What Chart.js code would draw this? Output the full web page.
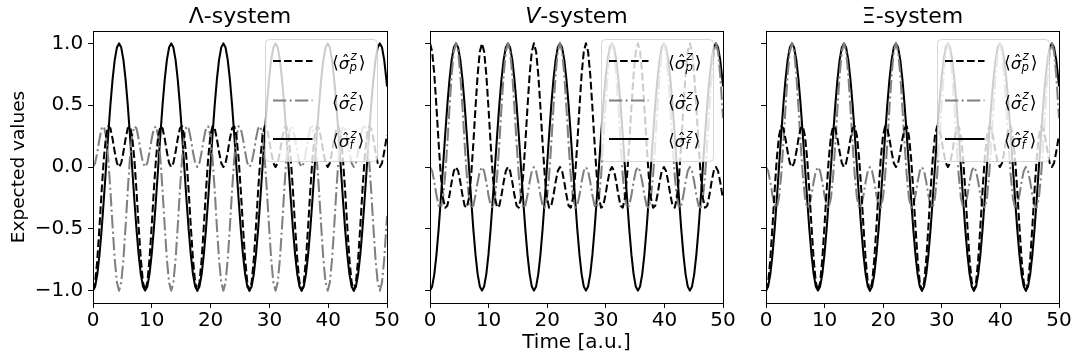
<!DOCTYPE html>
<html>
<head>
<meta charset="utf-8">
<script src="https://cdn.jsdelivr.net/npm/chart.js@4.4.1/dist/chart.umd.min.js"></script>
<style>
  html, body { margin: 0; padding: 0; background: #ffffff; }
  #wrap { position: relative; width: 1080px; height: 363px; overflow: hidden; }
  #wrap canvas { position: absolute; left: 0; top: 0; }
</style>
</head>
<body>
<div id="wrap">
  <canvas id="panelA" width="1080" height="363"></canvas>
  <canvas id="panelB" width="1080" height="363"></canvas>
  <canvas id="panelC" width="1080" height="363"></canvas>
</div>
<script>
// Time grid [a.u.]
const timeAxis = [
  0, 0.370, 0.739, 1.109, 1.478, 1.848, 2.218, 2.587, 2.957, 3.326, 3.696, 4.065, 4.435, 4.805, 5.174, 5.544, 5.913, 6.283, 6.653, 7.022, 7.392, 7.761, 8.131, 8.500,
  8.870, 9.240, 9.609, 9.979, 10.348, 10.718, 11.088, 11.457, 11.827, 12.196, 12.566, 12.935, 13.305, 13.675, 14.044, 14.414, 14.783, 15.153, 15.523, 15.892, 16.262, 16.631, 17.001, 17.370,
  17.740, 18.110, 18.479, 18.849, 19.218, 19.588, 19.958, 20.327, 20.697, 21.066, 21.436, 21.805, 22.175, 22.545, 22.914, 23.284, 23.653, 24.023, 24.393, 24.762, 25.132, 25.501, 25.871, 26.240,
  26.610, 26.980, 27.349, 27.719, 28.088, 28.458, 28.828, 29.197, 29.567, 29.936, 30.306, 30.675, 31.045, 31.415, 31.784, 32.154, 32.523, 32.893, 33.263, 33.632, 34.002, 34.371, 34.741, 35.110,
  35.480, 35.850, 36.219, 36.589, 36.958, 37.328, 37.698, 38.067, 38.437, 38.806, 39.176, 39.545, 39.915, 40.285, 40.654, 41.024, 41.393, 41.763, 42.133, 42.502, 42.872, 43.241, 43.611, 43.980,
  44.350, 44.720, 45.089, 45.459, 45.828, 46.198, 46.568, 46.937, 47.307, 47.676, 48.046, 48.415, 48.785, 49.155, 49.524, 49.894, 50
];

// <sigma_f^z>, same in all three systems
const sigmaF = [
  -1, -0.966, -0.866, -0.707, -0.5, -0.259, 0, 0.259, 0.5, 0.707, 0.866, 0.966, 1, 0.966, 0.866, 0.707, 0.5, 0.259, 0, -0.259, -0.5, -0.707, -0.866, -0.966,
  -1, -0.966, -0.866, -0.707, -0.5, -0.259, 0, 0.259, 0.5, 0.707, 0.866, 0.966, 1, 0.966, 0.866, 0.707, 0.5, 0.259, 0, -0.259, -0.5, -0.707, -0.866, -0.966,
  -1, -0.966, -0.866, -0.707, -0.5, -0.259, 0, 0.259, 0.5, 0.707, 0.866, 0.966, 1, 0.966, 0.866, 0.707, 0.5, 0.259, 0, -0.259, -0.5, -0.707, -0.866, -0.966,
  -1, -0.966, -0.866, -0.707, -0.5, -0.259, 0, 0.259, 0.5, 0.707, 0.866, 0.966, 1, 0.966, 0.866, 0.707, 0.5, 0.259, 0, -0.259, -0.5, -0.707, -0.866, -0.966,
  -1, -0.966, -0.866, -0.707, -0.5, -0.259, 0, 0.259, 0.5, 0.707, 0.866, 0.966, 1, 0.966, 0.866, 0.707, 0.5, 0.259, 0, -0.259, -0.5, -0.707, -0.866, -0.966,
  -1, -0.966, -0.866, -0.707, -0.5, -0.259, 0, 0.259, 0.5, 0.707, 0.866, 0.966, 1, 0.966, 0.866, 0.707, 0.652
];

// Lambda-system
const lambdaP = [
  -1, -0.933, -0.746, -0.479, -0.188, 0.070, 0.250, 0.329, 0.313, 0.229, 0.121, 0.033, 0, 0.033, 0.121, 0.229, 0.313, 0.329, 0.250, 0.070, -0.188, -0.479, -0.746, -0.933,
  -1, -0.933, -0.746, -0.479, -0.188, 0.070, 0.250, 0.329, 0.313, 0.229, 0.121, 0.033, 0, 0.033, 0.121, 0.229, 0.313, 0.329, 0.250, 0.070, -0.188, -0.479, -0.746, -0.933,
  -1, -0.933, -0.746, -0.479, -0.188, 0.070, 0.250, 0.329, 0.313, 0.229, 0.121, 0.033, 0, 0.033, 0.121, 0.229, 0.313, 0.329, 0.250, 0.070, -0.188, -0.479, -0.746, -0.933,
  -1, -0.933, -0.746, -0.479, -0.188, 0.070, 0.250, 0.329, 0.313, 0.229, 0.121, 0.033, 0, 0.033, 0.121, 0.229, 0.313, 0.329, 0.250, 0.070, -0.188, -0.479, -0.746, -0.933,
  -1, -0.933, -0.746, -0.479, -0.188, 0.070, 0.250, 0.329, 0.313, 0.229, 0.121, 0.033, 0, 0.033, 0.121, 0.229, 0.313, 0.329, 0.250, 0.070, -0.188, -0.479, -0.746, -0.933,
  -1, -0.933, -0.746, -0.479, -0.188, 0.070, 0.250, 0.329, 0.313, 0.229, 0.121, 0.033, 0, 0.033, 0.121, 0.229, 0.257
];
const lambdaC = [
  0, 0.033, 0.121, 0.229, 0.313, 0.329, 0.250, 0.070, -0.188, -0.479, -0.746, -0.933, -1, -0.933, -0.746, -0.479, -0.188, 0.070, 0.250, 0.329, 0.313, 0.229, 0.121, 0.033,
  0, 0.033, 0.121, 0.229, 0.313, 0.329, 0.250, 0.070, -0.188, -0.479, -0.746, -0.933, -1, -0.933, -0.746, -0.479, -0.188, 0.070, 0.250, 0.329, 0.313, 0.229, 0.121, 0.033,
  0, 0.033, 0.121, 0.229, 0.313, 0.329, 0.250, 0.070, -0.188, -0.479, -0.746, -0.933, -1, -0.933, -0.746, -0.479, -0.188, 0.070, 0.250, 0.329, 0.313, 0.229, 0.121, 0.033,
  0, 0.033, 0.121, 0.229, 0.313, 0.329, 0.250, 0.070, -0.188, -0.479, -0.746, -0.933, -1, -0.933, -0.746, -0.479, -0.188, 0.070, 0.250, 0.329, 0.313, 0.229, 0.121, 0.033,
  0, 0.033, 0.121, 0.229, 0.313, 0.329, 0.250, 0.070, -0.188, -0.479, -0.746, -0.933, -1, -0.933, -0.746, -0.479, -0.188, 0.070, 0.250, 0.329, 0.313, 0.229, 0.121, 0.033,
  0, 0.033, 0.121, 0.229, 0.313, 0.329, 0.250, 0.070, -0.188, -0.479, -0.746, -0.933, -1, -0.933, -0.746, -0.479, -0.395
];

// V-system
const vP = [
  1, 0.933, 0.746, 0.479, 0.188, -0.070, -0.250, -0.329, -0.313, -0.229, -0.121, -0.033, 0, -0.033, -0.121, -0.229, -0.313, -0.329, -0.250, -0.070, 0.188, 0.479, 0.746, 0.933,
  1, 0.933, 0.746, 0.479, 0.188, -0.070, -0.250, -0.329, -0.313, -0.229, -0.121, -0.033, 0, -0.033, -0.121, -0.229, -0.313, -0.329, -0.250, -0.070, 0.188, 0.479, 0.746, 0.933,
  1, 0.933, 0.746, 0.479, 0.188, -0.070, -0.250, -0.329, -0.313, -0.229, -0.121, -0.033, 0, -0.033, -0.121, -0.229, -0.313, -0.329, -0.250, -0.070, 0.188, 0.479, 0.746, 0.933,
  1, 0.933, 0.746, 0.479, 0.188, -0.070, -0.250, -0.329, -0.313, -0.229, -0.121, -0.033, 0, -0.033, -0.121, -0.229, -0.313, -0.329, -0.250, -0.070, 0.188, 0.479, 0.746, 0.933,
  1, 0.933, 0.746, 0.479, 0.188, -0.070, -0.250, -0.329, -0.313, -0.229, -0.121, -0.033, 0, -0.033, -0.121, -0.229, -0.313, -0.329, -0.250, -0.070, 0.188, 0.479, 0.746, 0.933,
  1, 0.933, 0.746, 0.479, 0.188, -0.070, -0.250, -0.329, -0.313, -0.229, -0.121, -0.033, 0, -0.033, -0.121, -0.229, -0.257
];
const vC = [
  0, -0.033, -0.121, -0.229, -0.313, -0.329, -0.250, -0.070, 0.188, 0.479, 0.746, 0.933, 1, 0.933, 0.746, 0.479, 0.188, -0.070, -0.250, -0.329, -0.313, -0.229, -0.121, -0.033,
  0, -0.033, -0.121, -0.229, -0.313, -0.329, -0.250, -0.070, 0.188, 0.479, 0.746, 0.933, 1, 0.933, 0.746, 0.479, 0.188, -0.070, -0.250, -0.329, -0.313, -0.229, -0.121, -0.033,
  0, -0.033, -0.121, -0.229, -0.313, -0.329, -0.250, -0.070, 0.188, 0.479, 0.746, 0.933, 1, 0.933, 0.746, 0.479, 0.188, -0.070, -0.250, -0.329, -0.313, -0.229, -0.121, -0.033,
  0, -0.033, -0.121, -0.229, -0.313, -0.329, -0.250, -0.070, 0.188, 0.479, 0.746, 0.933, 1, 0.933, 0.746, 0.479, 0.188, -0.070, -0.250, -0.329, -0.313, -0.229, -0.121, -0.033,
  0, -0.033, -0.121, -0.229, -0.313, -0.329, -0.250, -0.070, 0.188, 0.479, 0.746, 0.933, 1, 0.933, 0.746, 0.479, 0.188, -0.070, -0.250, -0.329, -0.313, -0.229, -0.121, -0.033,
  0, -0.033, -0.121, -0.229, -0.313, -0.329, -0.250, -0.070, 0.188, 0.479, 0.746, 0.933, 1, 0.933, 0.746, 0.479, 0.395
];

// Xi-system
const xiP = [
  -1, -0.933, -0.746, -0.479, -0.188, 0.070, 0.250, 0.329, 0.313, 0.229, 0.121, 0.033, 0, 0.033, 0.121, 0.229, 0.313, 0.329, 0.250, 0.070, -0.188, -0.479, -0.746, -0.933,
  -1, -0.933, -0.746, -0.479, -0.188, 0.070, 0.250, 0.329, 0.313, 0.229, 0.121, 0.033, 0, 0.033, 0.121, 0.229, 0.313, 0.329, 0.250, 0.070, -0.188, -0.479, -0.746, -0.933,
  -1, -0.933, -0.746, -0.479, -0.188, 0.070, 0.250, 0.329, 0.313, 0.229, 0.121, 0.033, 0, 0.033, 0.121, 0.229, 0.313, 0.329, 0.250, 0.070, -0.188, -0.479, -0.746, -0.933,
  -1, -0.933, -0.746, -0.479, -0.188, 0.070, 0.250, 0.329, 0.313, 0.229, 0.121, 0.033, 0, 0.033, 0.121, 0.229, 0.313, 0.329, 0.250, 0.070, -0.188, -0.479, -0.746, -0.933,
  -1, -0.933, -0.746, -0.479, -0.188, 0.070, 0.250, 0.329, 0.313, 0.229, 0.121, 0.033, 0, 0.033, 0.121, 0.229, 0.313, 0.329, 0.250, 0.070, -0.188, -0.479, -0.746, -0.933,
  -1, -0.933, -0.746, -0.479, -0.188, 0.070, 0.250, 0.329, 0.313, 0.229, 0.121, 0.033, 0, 0.033, 0.121, 0.229, 0.257
];
const xiC = [
  0, -0.033, -0.121, -0.229, -0.313, -0.329, -0.250, -0.070, 0.188, 0.479, 0.746, 0.933, 1, 0.933, 0.746, 0.479, 0.188, -0.070, -0.250, -0.329, -0.313, -0.229, -0.121, -0.033,
  0, -0.033, -0.121, -0.229, -0.313, -0.329, -0.250, -0.070, 0.188, 0.479, 0.746, 0.933, 1, 0.933, 0.746, 0.479, 0.188, -0.070, -0.250, -0.329, -0.313, -0.229, -0.121, -0.033,
  0, -0.033, -0.121, -0.229, -0.313, -0.329, -0.250, -0.070, 0.188, 0.479, 0.746, 0.933, 1, 0.933, 0.746, 0.479, 0.188, -0.070, -0.250, -0.329, -0.313, -0.229, -0.121, -0.033,
  0, -0.033, -0.121, -0.229, -0.313, -0.329, -0.250, -0.070, 0.188, 0.479, 0.746, 0.933, 1, 0.933, 0.746, 0.479, 0.188, -0.070, -0.250, -0.329, -0.313, -0.229, -0.121, -0.033,
  0, -0.033, -0.121, -0.229, -0.313, -0.329, -0.250, -0.070, 0.188, 0.479, 0.746, 0.933, 1, 0.933, 0.746, 0.479, 0.188, -0.070, -0.250, -0.329, -0.313, -0.229, -0.121, -0.033,
  0, -0.033, -0.121, -0.229, -0.313, -0.329, -0.250, -0.070, 0.188, 0.479, 0.746, 0.933, 1, 0.933, 0.746, 0.479, 0.395
];

const xTicks = [0, 10, 20, 30, 40, 50];
const yTicks = [-1, -0.5, 0, 0.5, 1];
const subscripts = ['p', 'c', 'f'];
const yAxisTitle = 'Expected values';
const xAxisTitle = 'Time [a.u.]';

// ---- layout and styling ----
const FONT = '"DejaVu Sans", sans-serif';
const TICK_PX = 20;
const YLABEL_PX = 18.5;
const XLABEL_PX = 20;
const TITLE_PX = 22;
const TOP = 31, BOTTOM = 303;
const AXIS_W = 75, AXIS_H = 40;
const TICK_LEN = 4.9;

const lineStyles = [
  { color: '#000000', dash: [7.7, 3.3] },              // dashed
  { color: '#808080', dash: [13.3, 3.3, 2.1, 3.3] },   // dash-dot
  { color: '#000000', dash: [] }                        // solid
];

const panels = [
  { canvas: 'panelA', left: 93, right: 387, series: [lambdaP, lambdaC, sigmaF],
    title: [{ text: 'Λ', italic: false }, { text: '-system', italic: false }], yLabels: true },
  { canvas: 'panelB', left: 430, right: 723, series: [vP, vC, sigmaF],
    title: [{ text: 'V', italic: true }, { text: '-system', italic: false }], yLabels: false, xTitle: true },
  { canvas: 'panelC', left: 766, right: 1059, series: [xiP, xiC, sigmaF],
    title: [{ text: 'Ξ', italic: false }, { text: '-system', italic: false }], yLabels: false }
];

function fmtNum(v) {
  const s = Math.abs(v).toFixed(1);
  return v < 0 ? '\u2212' + s : s;
}

function drawSigmaLabel(ctx, x, base, sub) {
  const F = 16.7, S = 11.7;
  ctx.fillStyle = '#000';
  ctx.textAlign = 'left';
  ctx.textBaseline = 'alphabetic';
  ctx.font = `17.5px ${FONT}`;
  ctx.fillText('\u27E8', x, base - 1);
  let cx = x + ctx.measureText('\u27E8').width;
  ctx.font = `italic ${F}px ${FONT}`;
  ctx.fillText('\u03C3', cx, base);
  const sw = ctx.measureText('\u03C3').width;
  ctx.font = `${F}px ${FONT}`;
  ctx.textAlign = 'center';
  ctx.fillText('\u02C6', cx + sw * 0.5 + 1.5, base - 2);
  ctx.textAlign = 'left';
  cx += sw + 0.5;
  ctx.font = `italic ${S}px ${FONT}`;
  ctx.fillText('z', cx + 0.5, base - 9.5);
  ctx.fillText(sub, cx - 0.5, base + 2);
  const zw = Math.max(ctx.measureText('z').width, ctx.measureText(sub).width);
  cx += zw + 1.5;
  ctx.font = `17.5px ${FONT}`;
  ctx.fillText('\u27E9', cx, base - 1);
}

function drawLegend(ctx, area) {
  const w = 112, h = 122, r = 4;
  const x0 = area.right - 9.5 - w, y0 = area.top + 8.5;
  ctx.save();
  ctx.beginPath();
  ctx.moveTo(x0 + r, y0);
  ctx.lineTo(x0 + w - r, y0);
  ctx.quadraticCurveTo(x0 + w, y0, x0 + w, y0 + r);
  ctx.lineTo(x0 + w, y0 + h - r);
  ctx.quadraticCurveTo(x0 + w, y0 + h, x0 + w - r, y0 + h);
  ctx.lineTo(x0 + r, y0 + h);
  ctx.quadraticCurveTo(x0, y0 + h, x0, y0 + h - r);
  ctx.lineTo(x0, y0 + r);
  ctx.quadraticCurveTo(x0, y0, x0 + r, y0);
  ctx.closePath();
  ctx.fillStyle = 'rgba(255,255,255,0.8)';
  ctx.fill();
  ctx.strokeStyle = 'rgba(204,204,204,0.8)';
  ctx.lineWidth = 1;
  ctx.stroke();

  const rows = [21.5, 61, 99.5];
  rows.forEach((dy, i) => {
    const y = y0 + dy;
    ctx.beginPath();
    ctx.setLineDash(lineStyles[i].dash);
    ctx.strokeStyle = lineStyles[i].color;
    ctx.lineWidth = 2.05;
    ctx.lineCap = 'butt';
    ctx.moveTo(x0 + 7.5, y);
    ctx.lineTo(x0 + 47, y);
    ctx.stroke();
    ctx.setLineDash([]);
    drawSigmaLabel(ctx, x0 + 66.5, y + 8, subscripts[i]);
  });
  ctx.restore();
}

const decorPlugin = {
  id: 'decor',
  afterDatasetsDraw(chart, args, opts) {
    drawLegend(chart.ctx, chart.chartArea);
  },
  afterDraw(chart, args, opts) {
    const ctx = chart.ctx, a = chart.chartArea;
    ctx.save();
    // full frame
    ctx.strokeStyle = '#000';
    ctx.lineWidth = 1;
    ctx.strokeRect(Math.round(a.left) + 0.5, Math.round(a.top) + 0.5,
                   Math.round(a.right) - Math.round(a.left), Math.round(a.bottom) - Math.round(a.top));
    // panel title
    ctx.fillStyle = '#000';
    ctx.textBaseline = 'alphabetic';
    ctx.textAlign = 'left';
    const parts = opts.title;
    const widths = parts.map(p => {
      ctx.font = `${p.italic ? 'italic ' : ''}${TITLE_PX}px ${FONT}`;
      return ctx.measureText(p.text).width;
    });
    const total = widths.reduce((s, v) => s + v, 0);
    let tx = (a.left + a.right) / 2 - total / 2;
    parts.forEach((p, i) => {
      ctx.font = `${p.italic ? 'italic ' : ''}${TITLE_PX}px ${FONT}`;
      ctx.fillText(p.text, tx, a.top - 8.5);
      tx += widths[i];
    });
    // axis titles
    if (opts.yTitle) {
      ctx.save();
      ctx.font = `${YLABEL_PX}px ${FONT}`;
      ctx.translate(19, (a.top + a.bottom) / 2);
      ctx.rotate(-Math.PI / 2);
      ctx.textAlign = 'center';
      ctx.textBaseline = 'middle';
      ctx.fillText(yAxisTitle, 0, 0);
      ctx.restore();
    }
    if (opts.xTitle) {
      ctx.font = `${XLABEL_PX}px ${FONT}`;
      ctx.textAlign = 'center';
      ctx.textBaseline = 'middle';
      ctx.fillText(xAxisTitle, (a.left + a.right) / 2, 343);
    }
    ctx.restore();
  }
};

const seriesNames = ['sigma_p', 'sigma_c', 'sigma_f'];

panels.forEach(panel => {
  const datasets = panel.series.map((vals, i) => ({
    label: seriesNames[i],
    data: timeAxis.map((t, k) => ({ x: t, y: vals[k] })),
    borderColor: lineStyles[i].color,
    borderDash: lineStyles[i].dash,
    borderWidth: 2.05,
    borderCapStyle: 'butt',
    borderJoinStyle: 'round',
    pointRadius: 0,
    tension: 0,
    fill: false
  }));

  new Chart(document.getElementById(panel.canvas), {
    type: 'line',
    data: { datasets },
    plugins: [decorPlugin],
    options: {
      responsive: false,
      animation: false,
      devicePixelRatio: 1,
      events: [],
      layout: {
        padding: { left: panel.left - AXIS_W, right: 1080 - panel.right, top: TOP, bottom: 363 - BOTTOM - AXIS_H }
      },
      plugins: {
        legend: { display: false },
        tooltip: { enabled: false },
        decor: { title: panel.title, yTitle: panel.yLabels, xTitle: !!panel.xTitle }
      },
      scales: {
        x: {
          type: 'linear', min: 0, max: 50,
          afterBuildTicks: s => { s.ticks = xTicks.map(v => ({ value: v })); },
          afterFit: s => { s.height = AXIS_H; },
          ticks: { font: { family: FONT, size: TICK_PX }, color: '#000', padding: 1, maxRotation: 0, autoSkip: false,
                   callback: v => String(v) },
          grid: { drawOnChartArea: false, drawTicks: true, tickLength: TICK_LEN, color: '#000', lineWidth: 1 },
          border: { display: true, color: '#000', width: 1 }
        },
        y: {
          type: 'linear', min: -1.1, max: 1.1,
          afterBuildTicks: s => { s.ticks = yTicks.map(v => ({ value: v })); },
          afterFit: s => { s.width = AXIS_W; },
          ticks: { font: { family: FONT, size: TICK_PX }, color: '#000', padding: 4.9, autoSkip: false,
                   callback: v => panel.yLabels ? fmtNum(v) : '' },
          grid: { drawOnChartArea: false, drawTicks: true, tickLength: TICK_LEN, color: '#000', lineWidth: 1 },
          border: { display: true, color: '#000', width: 1 }
        }
      }
    }
  });
});
</script>
</body>
</html>
